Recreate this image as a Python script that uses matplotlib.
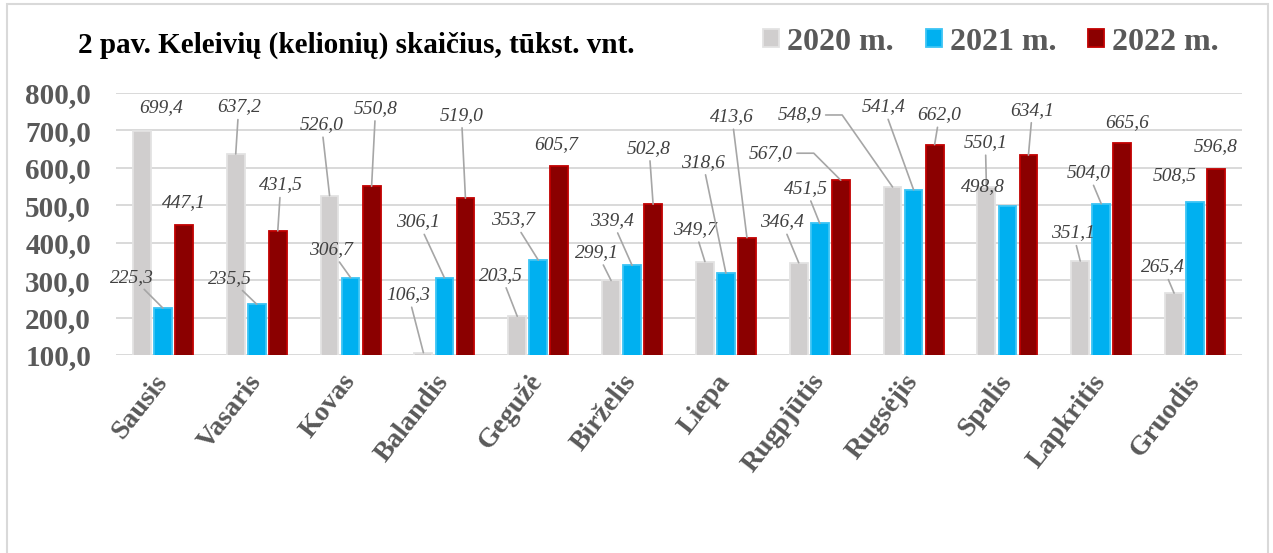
import numpy as np
import matplotlib
matplotlib.use("Agg")
import matplotlib.pyplot as plt
import matplotlib.transforms as mtransforms
from matplotlib.patches import Rectangle, Patch

plt.rcParams['font.family'] = ['Liberation Serif', 'DejaVu Serif']

months = ["Sausis", "Vasaris", "Kovas", "Balandis", "Gegužė", "Birželis",
          "Liepa", "Rugpjūtis", "Rugsėjis", "Spalis", "Lapkritis", "Gruodis"]
years = ["2020 m.", "2021 m.", "2022 m."]
v2020 = [699.4, 637.2, 526.0, 106.3, 203.5, 299.1, 349.7, 346.4, 548.9, 550.1, 351.1, 265.4]
v2021 = [225.3, 235.5, 306.7, 306.1, 353.7, 339.4, 318.6, 451.5, 541.4, 498.8, 504.0, 508.5]
v2022 = [447.1, 431.5, 550.8, 519.0, 605.7, 502.8, 413.6, 567.0, 662.0, 634.1, 665.6, 596.8]
yticks = [100, 200, 300, 400, 500, 600, 700, 800]

# label offsets in pixels from the bar top (dx, dy) and whether a leader line is drawn
off2020 = [(19, 23), (3, 47), (-8, 71), (-15, 58), (-16, 41), (-14, 28),
           (-10, 32), (-17, 41), (-93, 72), (-1, 44), (-7, 28), (-11, 26)]
off2021 = [(-31, 31), (-27, 26), (-20, 28), (-26, 56), (-25, 40), (-20, 45),
           (-23, 111), (-14, 35), (-30, 83), (-25, 19), (-13, 31), (-20, 27)]
off2022 = [(0, 22), (3, 46), (4, 78), (-4, 83), (-3, 21), (-4, 56),
           (-15, 121), (-70, 27), (5, 30), (4, 45), (5, 21), (0, 22)]
line2020 = [0, 1, 1, 1, 1, 1, 1, 1, 1, 1, 1, 1]
line2021 = [1, 1, 1, 1, 1, 1, 1, 1, 1, 0, 1, 0]
line2022 = [0, 1, 1, 1, 0, 1, 1, 1, 1, 1, 0, 0]
# elbow connectors (angle of the segment leaving the bar top)
elbow2020 = {8: 125}
elbow2021 = {}
elbow2022 = {7: 135}

faces = ["#d0cece", "#00b0f0", "#8b0000"]
edges = ["#e3e3e3", "#3cc4f5", "#c00000"]

fig = plt.figure(figsize=(12.73, 5.53), dpi=100)
ax = fig.add_axes([116/1273, 1-355/553, (1242-116)/1273, (355-93)/553])

x = np.arange(len(months))
width = 0.19
shift = 0.224
series = [v2020, v2021, v2022]
offsets = [off2020, off2021, off2022]
lines = [line2020, line2021, line2022]
elbows = [elbow2020, elbow2021, elbow2022]

for s, vals in enumerate(series):
    xs = x + (s - 1) * shift
    ax.bar(xs, vals, width, color=faces[s], edgecolor=edges[s], linewidth=1.3, zorder=3)
    for i, v in enumerate(vals):
        dx, dy = offsets[s][i]
        lbl = f"{v:.1f}".replace(".", ",")
        if lines[s][i]:
            if i in elbows[s]:
                cs = f"angle,angleA=0,angleB={elbows[s][i]},rad=0"
            else:
                cs = "arc3"
            ap = dict(arrowstyle="-", color="#a6a6a6", lw=1.2,
                      shrinkA=1, shrinkB=0, connectionstyle=cs)
        else:
            ap = None
        ax.annotate(lbl, xy=(xs[i], v), xytext=(dx, dy), textcoords="offset pixels",
                    ha="center", va="center", fontsize=14, style="italic",
                    color="#404040", arrowprops=ap, zorder=5)

ax.set_xlim(-0.5, 11.5)
ax.set_ylim(100, 800)
ax.set_yticks(yticks)
ax.set_yticklabels([f"{t:.1f}".replace(".", ",") for t in yticks],
                   fontsize=21, fontweight="bold", color="#595959")
ax.set_xticks(x)
ax.set_xticklabels(months, rotation=52, ha="right", va="center",
                   rotation_mode="anchor", fontsize=20, fontweight="bold",
                   color="#595959")
offset = mtransforms.ScaledTranslation(6/100, -2/100, fig.dpi_scale_trans)
for t in ax.get_xticklabels():
    t.set_transform(t.get_transform() + offset)
ax.tick_params(axis="both", length=0)
ax.tick_params(axis="x", pad=16)
ax.tick_params(axis="y", pad=18)
ax.grid(axis="y", color="#d9d9d9", linewidth=1.4, zorder=0)
for sp in ax.spines.values():
    sp.set_visible(False)

fig.text(78/1273, 1-45/553, "2 pav. Keleivių (kelionių) skaičius, tūkst. vnt.",
         ha="left", va="center", fontsize=21, fontweight="bold", color="black")

handles = [Patch(facecolor=faces[k], edgecolor=edges[k], linewidth=1.3) for k in range(3)]
leg = fig.legend(handles, years, ncol=3, loc="center", bbox_to_anchor=(991/1273, 1-42/553),
                 frameon=False, handlelength=0.5, handleheight=0.5, handletextpad=0.25,
                 columnspacing=1.0, prop=dict(size=23, weight="bold"))
for t in leg.get_texts():
    t.set_color("#595959")

fig.patches.append(Rectangle((7/1273, -0.05), (1268-7)/1273, 1-4/553+0.05,
                             transform=fig.transFigure, fill=False,
                             edgecolor="#d9d9d9", linewidth=1.5))

fig.savefig("out.png", dpi=100)
